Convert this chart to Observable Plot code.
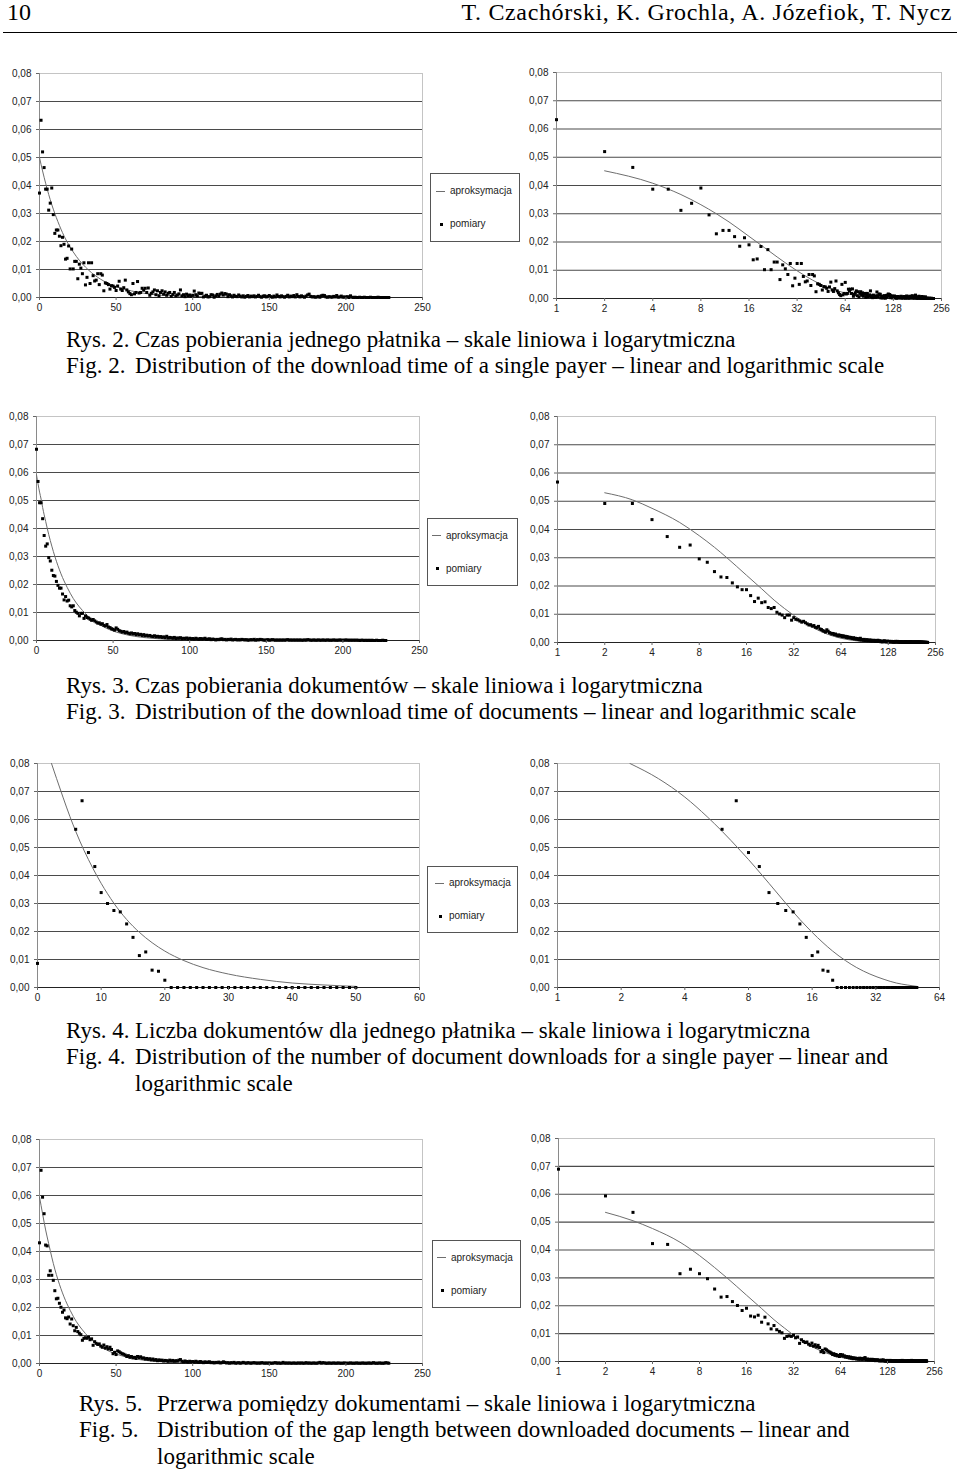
<!DOCTYPE html>
<html><head><meta charset="utf-8">
<script src="https://cdn.jsdelivr.net/npm/d3@7"></script>
<script src="https://cdn.jsdelivr.net/npm/@observablehq/plot@0.6"></script>
<style>
body{margin:0;background:#fff;}
#page{position:relative;width:960px;height:1472px;overflow:hidden;font-family:"Liberation Serif","Times New Roman",serif;color:#000;background:#fff;}
.cap{position:absolute;font-size:23px;line-height:26px;white-space:nowrap;}
.legend{position:absolute;border:1px solid #555;font-family:"Liberation Sans",Arial,sans-serif;font-size:10px;color:#222;background:#fff;}
.lrow{position:absolute;white-space:nowrap;line-height:12px;}
</style></head><body><div id="page"></div>
<script>
// ---------------- DATA ----------------
const yTicks = [0, 0.01, 0.02, 0.03, 0.04, 0.05, 0.06, 0.07, 0.08];
const xTicksLin250 = [0, 50, 100, 150, 200, 250];
const xTicksLin60 = [0, 10, 20, 30, 40, 50, 60];
const xTicksLog256 = [1, 2, 4, 8, 16, 32, 64, 128, 256];
const xTicksLog64 = [1, 2, 4, 8, 16, 32, 64];
const legendLabels = ["aproksymacja", "pomiary"];

// Fig. 2 – download time of a single payer (measured, x = 0..228)
const fig2Measured = [
0.0373,0.0633,0.0520,0.0464,0.0387,0.0387,0.0312,0.0337,0.0391,0.0296,
0.0229,0.0241,0.0241,0.0219,0.0185,0.0215,0.0190,0.0137,0.0140,0.0184,
0.0102,0.0173,0.0102,0.0129,0.0129,0.0067,0.0119,0.0105,0.0085,0.0124,
0.0045,0.0072,0.0124,0.0050,0.0124,0.0078,0.0059,0.0062,0.0085,0.0046,
0.0085,0.0080,0.0024,0.0052,0.0050,0.0046,0.0030,0.0042,0.0041,0.0036,
0.0025,0.0041,0.0058,0.0030,0.0025,0.0035,0.0062,0.0027,0.0020,0.0014,
0.0010,0.0050,0.0013,0.0018,0.0057,0.0016,0.0018,0.0033,0.0026,0.0033,
0.0018,0.0034,0.0008,0.0015,0.0020,0.0027,0.0010,0.0024,0.0006,0.0018,
0.0024,0.0012,0.0020,0.0008,0.0015,0.0018,0.0004,0.0011,0.0018,0.0006,
0.0009,0.0013,0.0027,0.0006,0.0010,0.0003,0.0012,0.0006,0.0009,0.0004,
0.0008,0.0023,0.0010,0.0006,0.0016,0.0014,0.0015,0.0002,0.0005,0.0008,
0.0002,0.0003,0.0010,0.0009,0.0001,0.0006,0.0011,0.0005,0.0012,0.0016,
0.0009,0.0014,0.0012,0.0003,0.0010,0.0006,0.0002,0.0008,0.0004,0.0003,
0.0009,0.0005,0.0002,0.0006,0.0001,0.0004,0.0007,0.0002,0.0005,0.0003,
0.0006,0.0002,0.0004,0.0008,0.0003,0.0001,0.0005,0.0006,0.0002,0.0004,
0.0007,0.0003,0.0001,0.0005,0.0002,0.0009,0.0004,0.0002,0.0006,0.0003,
0.0001,0.0004,0.0008,0.0002,0.0005,0.0003,0.0007,0.0002,0.0010,0.0004,
0.0002,0.0006,0.0003,0.0001,0.0005,0.0009,0.0012,0.0004,0.0002,0.0003,
0.0001,0.0002,0.0004,0.0001,0.0006,0.0008,0.0007,0.0002,0.0001,0.0003,
0.0002,0.0001,0.0004,0.0002,0.0007,0.0001,0.0002,0.0005,0.0001,0.0002,
0.0001,0.0003,0.0000,0.0006,0.0001,0.0000,0.0001,0.0000,0.0000,0.0001,
0.0000,0.0000,0.0001,0.0000,0.0000,0.0000,0.0001,0.0000,0.0000,0.0000,
0.0000,0.0001,0.0000,0.0000,0.0000,0.0000,0.0000,0.0000,0.0000];
const fig2CurveX = [0,2,4,6,8,10,12,16,20,24,32,40,48,56,64,80,96,128,160,228];
const fig2CurveY = [0.0500,0.0452,0.0408,0.0368,0.0332,0.0300,0.0271,0.0220,0.0180,0.0147,0.0098,0.0065,0.0043,0.0029,0.0019,0.0008,0.0004,0.0001,0.0000,0.0000];

// Fig. 3 – download time of documents
const fig3Measured = [
0.0683,0.0568,0.0492,0.0492,0.0435,0.0375,0.0337,0.0345,0.0296,0.0284,
0.0251,0.0232,0.0230,0.0211,0.0197,0.0187,0.0187,0.0166,0.0145,0.0157,
0.0141,0.0144,0.0124,0.0120,0.0124,0.0107,0.0101,0.0097,0.0088,0.0097,
0.0097,0.0079,0.0088,0.0082,0.0080,0.0076,0.0072,0.0075,0.0070,0.0066,
0.0062,0.0063,0.0058,0.0060,0.0054,0.0052,0.0057,0.0048,0.0046,0.0042,
0.0040,0.0037,0.0045,0.0040,0.0035,0.0033,0.0030,0.0032,0.0028,0.0030,
0.0026,0.0024,0.0027,0.0023,0.0025,0.0021,0.0024,0.0020,0.0022,0.0018,
0.0021,0.0017,0.0019,0.0016,0.0018,0.0015,0.0014,0.0017,0.0013,0.0015,
0.0012,0.0014,0.0011,0.0013,0.0010,0.0015,0.0009,0.0011,0.0010,0.0008,
0.0011,0.0007,0.0009,0.0008,0.0010,0.0006,0.0008,0.0007,0.0009,0.0005,
0.0008,0.0006,0.0007,0.0005,0.0008,0.0006,0.0004,0.0007,0.0005,0.0006,
0.0008,0.0004,0.0005,0.0006,0.0003,0.0005,0.0004,0.0002,0.0004,0.0003,
0.0005,0.0006,0.0003,0.0004,0.0002,0.0004,0.0003,0.0005,0.0002,0.0003,
0.0004,0.0002,0.0003,0.0002,0.0004,0.0003,0.0002,0.0003,0.0001,0.0002,
0.0003,0.0002,0.0004,0.0001,0.0003,0.0002,0.0004,0.0003,0.0002,0.0001,
0.0002,0.0003,0.0001,0.0002,0.0003,0.0002,0.0001,0.0002,0.0001,0.0002,
0.0001,0.0002,0.0001,0.0002,0.0003,0.0001,0.0002,0.0001,0.0002,0.0001,
0.0002,0.0001,0.0002,0.0001,0.0001,0.0002,0.0001,0.0003,0.0002,0.0001,
0.0001,0.0002,0.0001,0.0001,0.0002,0.0001,0.0001,0.0002,0.0001,0.0001,
0.0002,0.0001,0.0001,0.0001,0.0002,0.0001,0.0001,0.0001,0.0002,0.0001,
0.0001,0.0001,0.0002,0.0001,0.0001,0.0001,0.0001,0.0001,0.0001,0.0001,
0.0001,0.0000,0.0001,0.0001,0.0000,0.0001,0.0000,0.0001,0.0000,0.0001,
0.0000,0.0000,0.0001,0.0000,0.0000,0.0000,0.0001,0.0000,0.0000];
const fig3CurveX = [0,2,3,4,6,8,10,12,16,20,24,28,32,40,48,56,64,80,96,128,228];
const fig3CurveY = [0.0592,0.0530,0.0505,0.0475,0.0425,0.0378,0.0337,0.0300,0.0238,0.0190,0.0150,0.0120,0.0096,0.0061,0.0038,0.0024,0.0015,0.0006,0.0002,0.0000,0.0000];

// Fig. 4 – number of documents per payer (x = 0..50; 1..5 off the chart)
const fig4Measured = [
0.0086,null,null,null,null,null,0.0565,0.0667,0.0482,0.0432,
0.0339,0.0300,0.0275,0.0270,0.0227,0.0179,0.0114,0.0127,0.0062,0.0058,
0.0026,0,0,0,0,0,0,0,0,0,
0,0,0,0,0,0,0,0,0,0,
0,0,0,0,0,0,0,0,0,0,
0];
const fig4CurveX = [2.2,3,4,5.1,6,7.3,8,9.3,10,12,14,16,18,20,23,26,30,35,40,45,50];
const fig4CurveY = [0.0800,0.0746,0.0680,0.0610,0.0558,0.0490,0.0457,0.0400,0.0372,0.0301,0.0243,0.0197,0.0160,0.0130,0.0096,0.0071,0.0048,0.0029,0.0016,0.0009,0.0004];

// Fig. 5 – gap between downloaded documents
const fig5Measured = [
0.0431,0.0690,0.0594,0.0535,0.0423,0.0420,0.0315,0.0331,0.0315,0.0297,
0.0260,0.0231,0.0233,0.0215,0.0201,0.0183,0.0191,0.0163,0.0160,0.0166,
0.0141,0.0159,0.0135,0.0117,0.0129,0.0114,0.0108,0.0103,0.0083,0.0090,
0.0092,0.0090,0.0094,0.0085,0.0088,0.0065,0.0078,0.0072,0.0068,0.0070,
0.0062,0.0058,0.0066,0.0055,0.0060,0.0052,0.0058,0.0050,0.0035,0.0040,
0.0032,0.0045,0.0042,0.0038,0.0035,0.0033,0.0030,0.0025,0.0028,0.0022,
0.0025,0.0020,0.0022,0.0018,0.0025,0.0021,0.0024,0.0019,0.0020,0.0016,
0.0018,0.0015,0.0017,0.0013,0.0016,0.0012,0.0014,0.0010,0.0013,0.0011,
0.0012,0.0009,0.0011,0.0010,0.0008,0.0012,0.0009,0.0011,0.0008,0.0010,
0.0009,0.0012,0.0014,0.0008,0.0006,0.0009,0.0007,0.0005,0.0008,0.0006,
0.0007,0.0005,0.0008,0.0006,0.0004,0.0007,0.0005,0.0003,0.0006,0.0004,
0.0005,0.0006,0.0003,0.0004,0.0002,0.0004,0.0003,0.0005,0.0002,0.0003,
0.0006,0.0004,0.0002,0.0003,0.0001,0.0003,0.0002,0.0004,0.0001,0.0002,
0.0003,0.0001,0.0002,0.0004,0.0002,0.0001,0.0003,0.0002,0.0001,0.0002,
0.0003,0.0002,0.0001,0.0002,0.0001,0.0003,0.0002,0.0001,0.0002,0.0001,
0.0002,0.0001,0.0001,0.0002,0.0003,0.0001,0.0002,0.0001,0.0001,0.0004,
0.0001,0.0002,0.0001,0.0002,0.0001,0.0001,0.0002,0.0001,0.0001,0.0002,
0.0001,0.0002,0.0001,0.0001,0.0003,0.0001,0.0002,0.0001,0.0001,0.0002,
0.0001,0.0001,0.0002,0.0004,0.0001,0.0003,0.0002,0.0001,0.0001,0.0002,
0.0001,0.0001,0.0002,0.0001,0.0001,0.0002,0.0001,0.0001,0.0001,0.0002,
0.0001,0.0001,0.0001,0.0002,0.0001,0.0001,0.0001,0.0002,0.0001,0.0001,
0.0001,0.0002,0.0001,0.0001,0.0001,0.0002,0.0001,0.0001,0.0003,0.0001,
0.0001,0.0001,0.0002,0.0001,0.0001,0.0001,0.0003,0.0002,0.0001];
const fig5CurveX = [0,2,3,4,6,8,10,12,16,20,24,28,32,40,48,56,64,80,96,128,228];
const fig5CurveY = [0.0595,0.0535,0.0505,0.0477,0.0428,0.0380,0.0337,0.0300,0.0238,0.0190,0.0150,0.0120,0.0095,0.0060,0.0038,0.0024,0.0015,0.0006,0.0002,0.0000,0.0000];

const headerLeft = "10";
const headerRight = "T. Czachórski, K. Grochla, A. Józefiok, T. Nycz";
const captions = [
  {rys: "Rys. 2.", fig: "Fig. 2.", pl: ["Czas pobierania jednego płatnika – skale liniowa i logarytmiczna"],
   en: ["Distribution of the download time of a single payer – linear and logarithmic scale"]},
  {rys: "Rys. 3.", fig: "Fig. 3.", pl: ["Czas pobierania dokumentów – skale liniowa i logarytmiczna"],
   en: ["Distribution of the download time of documents – linear and logarithmic scale"]},
  {rys: "Rys. 4.", fig: "Fig. 4.", pl: ["Liczba dokumentów dla jednego płatnika – skale liniowa i logarytmiczna"],
   en: ["Distribution of the number of document downloads for a single payer – linear and", "logarithmic scale"]},
  {rys: "Rys. 5.", fig: "Fig. 5.", pl: ["Przerwa pomiędzy dokumentami – skale liniowa i logarytmiczna"],
   en: ["Distribution of the gap length between downloaded documents – linear and", "logarithmic scale"]}
];

// ---------------- DRAWING ----------------
const page = document.getElementById("page");
const fmtY = d => d.toFixed(2).replace(".", ",");

function chart(cfg) {
  const {L, R, T, B, log, xDomain, xTicks, measured, curveX, curveY} = cfg;
  const mL = 40, mR = 16, mT = 10, mB = 24;
  const width = R - L + mL + mR, height = B - T + mT + mB;
  const points = measured.map((v, i) => ({x: i, y: v}))
    .filter(d => d.y != null && (!log || d.x >= 1));
  const curve = curveX.map((x, i) => ({x, y: curveY[i]}))
    .filter(d => !log || d.x >= 2);
  const p = Plot.plot({
    width, height, marginLeft: mL, marginRight: mR, marginTop: mT, marginBottom: mB,
    style: {fontFamily: '"Liberation Sans", Arial, sans-serif', fontSize: "10px", color: "#222",
            background: "transparent", overflow: "visible"},
    x: log ? {type: "log", base: 2, domain: xDomain} : {type: "linear", domain: xDomain},
    y: {type: "linear", domain: [0, 0.08]},
    marks: [
      Plot.ruleY(yTicks.filter(d => d > 0 && d < 0.08), {stroke: "#4a4a4a", strokeWidth: 1.1}),
      Plot.ruleY([0.08], {stroke: "#c4c4c4"}),
      Plot.ruleX([xDomain[1]], {stroke: "#c4c4c4"}),
      Plot.ruleX([xDomain[0]], {stroke: "#8a8a8a"}),
      Plot.ruleY([0], {stroke: "#222", strokeWidth: 1.2}),
      Plot.line(curve, {x: "x", y: "y", stroke: "#6e6e6e", strokeWidth: 1, curve: "monotone-x", clip: true}),
      Plot.dot(points, {x: "x", y: "y", symbol: "square", r: 1.7, fill: "#000", stroke: "none"}),
      Plot.axisY(yTicks, {tickFormat: fmtY, tickSize: 3, tickPadding: 5, label: null, stroke: "#666"}),
      Plot.axisX(xTicks, {tickFormat: d => String(d), tickSize: 3, tickPadding: 3, label: null, stroke: "#666"})
    ]
  });
  p.style.position = "absolute";
  p.style.left = (L - mL) + "px";
  p.style.top = (T - mT) + "px";
  page.appendChild(p);
}

function legend(left, top, w, h, textX) {
  const box = document.createElement("div");
  box.className = "legend";
  Object.assign(box.style, {left: left + "px", top: top + "px", width: w + "px", height: h + "px"});
  const r1 = document.createElement("div");
  r1.className = "lrow";
  Object.assign(r1.style, {left: "0px", top: (h * 0.25 - 6) + "px"});
  r1.innerHTML = `<span style="display:inline-block;width:9px;height:0;border-top:1px solid #6e6e6e;vertical-align:middle;margin-left:${textX - 14}px;margin-right:5px"></span>${legendLabels[0]}`;
  const r2 = document.createElement("div");
  r2.className = "lrow";
  Object.assign(r2.style, {left: "0px", top: (h * 0.75 - 6) + "px"});
  r2.innerHTML = `<span style="display:inline-block;width:3px;height:3px;background:#000;vertical-align:middle;margin-left:${textX - 10}px;margin-right:7px"></span>${legendLabels[1]}`;
  box.appendChild(r1); box.appendChild(r2);
  page.appendChild(box);
}

function caption(c, rysX, textX, topY) {
  const add = (txt, x, y) => {
    const d = document.createElement("div");
    d.className = "cap";
    d.textContent = txt;
    d.style.left = x + "px";
    d.style.top = y + "px";
    page.appendChild(d);
  };
  add(c.rys, rysX, topY);
  c.pl.forEach((t, i) => add(t, textX, topY + 26 * i));
  const y2 = topY + 26 * c.pl.length;
  add(c.fig, rysX, y2);
  c.en.forEach((t, i) => add(t, textX, y2 + 26.5 * i));
}

// header
(function () {
  const l = document.createElement("div");
  l.className = "cap"; l.textContent = headerLeft;
  Object.assign(l.style, {left: "7px", top: "-1px", fontSize: "24px"});
  const r = document.createElement("div");
  r.className = "cap"; r.textContent = headerRight;
  Object.assign(r.style, {right: "8px", top: "-1px", fontSize: "24px", letterSpacing: "0.65px"});
  const hr = document.createElement("div");
  Object.assign(hr.style, {position: "absolute", left: "3px", width: "954px", top: "32px", height: "0", borderTop: "1.6px solid #000"});
  page.appendChild(l); page.appendChild(r); page.appendChild(hr);
})();

// Fig. 2
chart({L: 39, R: 422, T: 73, B: 297, log: false, xDomain: [0, 250], xTicks: xTicksLin250, measured: fig2Measured, curveX: fig2CurveX, curveY: fig2CurveY});
chart({L: 556, R: 941, T: 72, B: 298, log: true, xDomain: [1, 256], xTicks: xTicksLog256, measured: fig2Measured, curveX: fig2CurveX, curveY: fig2CurveY});
legend(430, 173, 88, 67, 19);
caption(captions[0], 66, 135, 327);

// Fig. 3
chart({L: 36, R: 419, T: 416, B: 640, log: false, xDomain: [0, 250], xTicks: xTicksLin250, measured: fig3Measured, curveX: fig3CurveX, curveY: fig3CurveY});
chart({L: 557, R: 935, T: 416, B: 642, log: true, xDomain: [1, 256], xTicks: xTicksLog256, measured: fig3Measured, curveX: fig3CurveX, curveY: fig3CurveY});
legend(427, 518, 89, 66, 18);
caption(captions[1], 66, 135, 673);

// Fig. 4
chart({L: 37, R: 419, T: 763, B: 987, log: false, xDomain: [0, 60], xTicks: xTicksLin60, measured: fig4Measured, curveX: fig4CurveX, curveY: fig4CurveY});
chart({L: 557, R: 939, T: 763, B: 987, log: true, xDomain: [1, 64], xTicks: xTicksLog64, measured: fig4Measured, curveX: fig4CurveX, curveY: fig4CurveY});
legend(427, 866, 89, 65, 21);
caption(captions[2], 66, 135, 1018);

// Fig. 5
chart({L: 39, R: 422, T: 1139, B: 1363, log: false, xDomain: [0, 250], xTicks: xTicksLin250, measured: fig5Measured, curveX: fig5CurveX, curveY: fig5CurveY});
chart({L: 558, R: 934, T: 1138, B: 1361, log: true, xDomain: [1, 256], xTicks: xTicksLog256, measured: fig5Measured, curveX: fig5CurveX, curveY: fig5CurveY});
legend(432, 1240, 87, 66, 18);
caption(captions[3], 79, 157, 1391);
</script>
</body></html>
